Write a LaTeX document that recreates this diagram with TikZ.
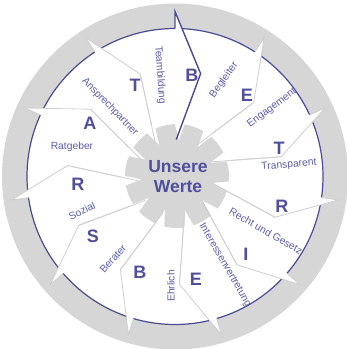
\documentclass[tikz,border=0pt]{standalone}
\usepackage{fontspec}
\setmainfont{Liberation Sans}
\definecolor{ringgray}{HTML}{D6D6D6}
\definecolor{sepgray}{HTML}{CFCFCF}
\definecolor{darkblue}{HTML}{4A4A96}
\definecolor{letterblue}{HTML}{4F4F9C}
\definecolor{wordblue}{HTML}{5C5CA8}
\tikzset{
  seg/.style={draw=sepgray, line width=0.8pt, line join=miter},
  hiseg/.style={draw=darkblue, line width=1.4pt, line join=miter},
  letter/.style={text=letterblue, font=\fontsize{18}{18}\selectfont\bfseries, inner sep=0pt},
  word/.style={text=wordblue, font=\fontsize{10.3}{11}\selectfont, inner sep=0pt},
  title/.style={text=letterblue, font=\fontsize{17.5}{18}\selectfont\bfseries, inner sep=0pt}
}
\begin{document}
\begin{tikzpicture}[x=1pt,y=1pt]
\useasboundingbox (-175,-172.5) rectangle (172,176.5);
\clip (-175,-172.5) rectangle (172,176.5);
\fill[white] (-175,-172.5) rectangle (172,176.5);
% rings
\fill[ringgray] (0,0) circle (173);
\fill[white] (0,0) circle (148);
\draw[darkblue, line width=1.2pt] (0,0) circle (148);
% separators with tips
\foreach \k in {1,...,10}{
  \pgfmathsetmacro\t{90-32.7273*\k}
  \fill[white] (\t:145) -- (\t:165) -- (\t-14:108) -- cycle;
  \draw[seg] (\t:148) -- (\t:165) -- (\t-14:108) -- (\t-2:38);
}
\fill[white] (90:145) -- (90:165) -- (76:106) -- cycle;
% gear
\begin{scope}[shift={(2,0.5)}]
  \fill[ringgray] (0,0) circle (52);
  \foreach \k in {0,...,10}{
    \pgfmathsetmacro\t{90-32.7273*\k}
    \fill[white] (\t-3:36) -- (\t+3:56) -- (\t-9:56) -- cycle;
  }
\end{scope}
\foreach \k in {1,...,10}{
  \pgfmathsetmacro\t{90-32.7273*\k}
  \draw[seg] (\t-14:108) -- (\t-2:38);
}
% highlighted separator
\coordinate (bb) at (90:148);
\coordinate (bt) at (90:165);
\coordinate (bk) at (76:106);
\coordinate (bi) at (88:37);
\draw[hiseg] (bb) -- (bt) -- (bk) -- (bi);
% centre
\node[title] (u) at (3,9.5) {Unsere};
\node[title] (w) at (3,-10.5) {Werte};
% letters
\node[letter] (l1) at (-40,91.5) {T};
\node[letter] (l2) at (17,101.5) {B};
\node[letter] (l3) at (72,81.5) {E};
\node[letter] (l4) at (104,28.5) {T};
\node[letter] (l5) at (107,-29.5) {R};
\node[letter] (l6) at (71,-77.5) {I};
\node[letter] (l7) at (21,-102.5) {E};
\node[letter] (l8) at (-35,-95.5) {B};
\node[letter] (l9) at (-82,-59.5) {S};
\node[letter] (l10) at (-97,-7.5) {R};
\node[letter] (l11) at (-85,53.5) {A};
% words
\node[word, rotate=-86] (w1) at (-15,101.5) {Teambildung};
\node[word, rotate=-46] (w2) at (-65,69.5) {Ansprechpartner};
\node[word] (w3) at (-103,29.5) {Ratgeber};
\node[word, rotate=25] (w4) at (-93,-34.5) {Sozial};
\node[word, rotate=48] (w5) at (-62,-82.5) {Berater};
\node[word, rotate=90] (w6) at (-4,-109.5) {Ehrlich};
\node[word, rotate=-60] (w7) at (50,-88.5) {Interessenvertretung};
\node[word, rotate=-30] (w8) at (91,-54.5) {Recht und Gesetz};
\node[word, rotate=5] (w9) at (114,11.5) {Transparent};
\node[word, rotate=37] (w10) at (97,68.5) {Engagement};
\node[word, rotate=54] (w11) at (49,96.5) {Begleiter};
\end{tikzpicture}
\end{document}
